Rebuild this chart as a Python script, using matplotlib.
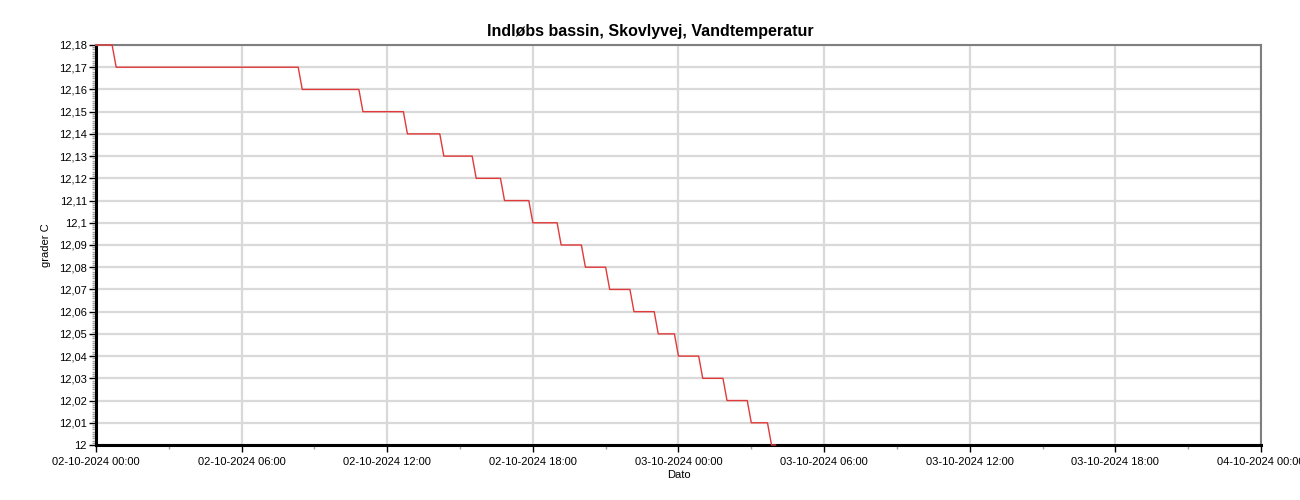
import numpy as np
import pandas as pd
import matplotlib
matplotlib.use('Agg')
import matplotlib.pyplot as plt
import matplotlib.dates as mdates
from matplotlib.ticker import MultipleLocator, FuncFormatter

plt.rcParams['font.family'] = ['Liberation Sans', 'DejaVu Sans']

# temperaturniveauer og tidspunkter (minutter efter 02-10-2024 00:00)
levels = [12.18, 12.17, 12.16, 12.15, 12.14, 12.13, 12.12, 12.11, 12.10, 12.09,
          12.08, 12.07, 12.06, 12.05, 12.04, 12.03, 12.02, 12.01, 12.00]
level_start = [0, 50, 510, 660, 770, 860, 940, 1010, 1080, 1150,
               1210, 1270, 1330, 1390, 1440, 1500, 1560, 1620, 1670]
level_end = [40, 500, 650, 760, 850, 930, 1000, 1070, 1140, 1200,
             1260, 1320, 1380, 1430, 1490, 1550, 1610, 1660, 1680]

start = pd.Timestamp('2024-10-02 00:00')
end = pd.Timestamp('2024-10-04 00:00')

times = []
temps = []
for v, s, e in zip(levels, level_start, level_end):
    times += [start + pd.Timedelta(minutes=s), start + pd.Timedelta(minutes=e)]
    temps += [v, v]

fig = plt.figure(figsize=(13, 5), dpi=100)
ax = fig.add_axes([0.0738, 0.11, 0.8962, 0.80])

ax.plot(times, temps, color='#e03a3a', lw=1.0, zorder=3, clip_on=False)

ax.set_xlim(start, end)
ax.set_ylim(12.0, 12.18)

ax.xaxis.set_major_locator(mdates.HourLocator(byhour=[0, 6, 12, 18]))
ax.xaxis.set_minor_locator(mdates.HourLocator(byhour=[3, 9, 15, 21]))
ax.xaxis.set_major_formatter(mdates.DateFormatter('%d-%m-%Y %H:%M'))

ax.yaxis.set_major_locator(MultipleLocator(0.01))
ax.yaxis.set_minor_locator(MultipleLocator(0.001))
ax.yaxis.set_major_formatter(FuncFormatter(lambda v, p: '{:g}'.format(round(v, 2)).replace('.', ',')))

ax.grid(True, which='major', color='#d9d9d9', lw=1.6, zorder=0)
ax.set_axisbelow(True)

ax.tick_params(axis='both', which='major', labelsize=8, length=5, width=1, color='black', direction='out')
ax.tick_params(axis='y', which='major', pad=1.5)
ax.tick_params(axis='both', which='minor', length=3, width=1, color='#a0a0a0', direction='out')

for side in ['left', 'bottom']:
    ax.spines[side].set_color('black')
    ax.spines[side].set_linewidth(2.2)
for side in ['top', 'right']:
    ax.spines[side].set_color('#7f7f7f')
    ax.spines[side].set_linewidth(1.5)

ax.set_xlabel('Dato', fontsize=8, labelpad=2)
ax.set_ylabel('grader C', fontsize=8, labelpad=6)
fig.suptitle('Indløbs bassin, Skovlyvej, Vandtemperatur', fontsize=11.5, fontweight='bold', x=0.5, y=0.952)

fig.savefig('out.png', dpi=100)
